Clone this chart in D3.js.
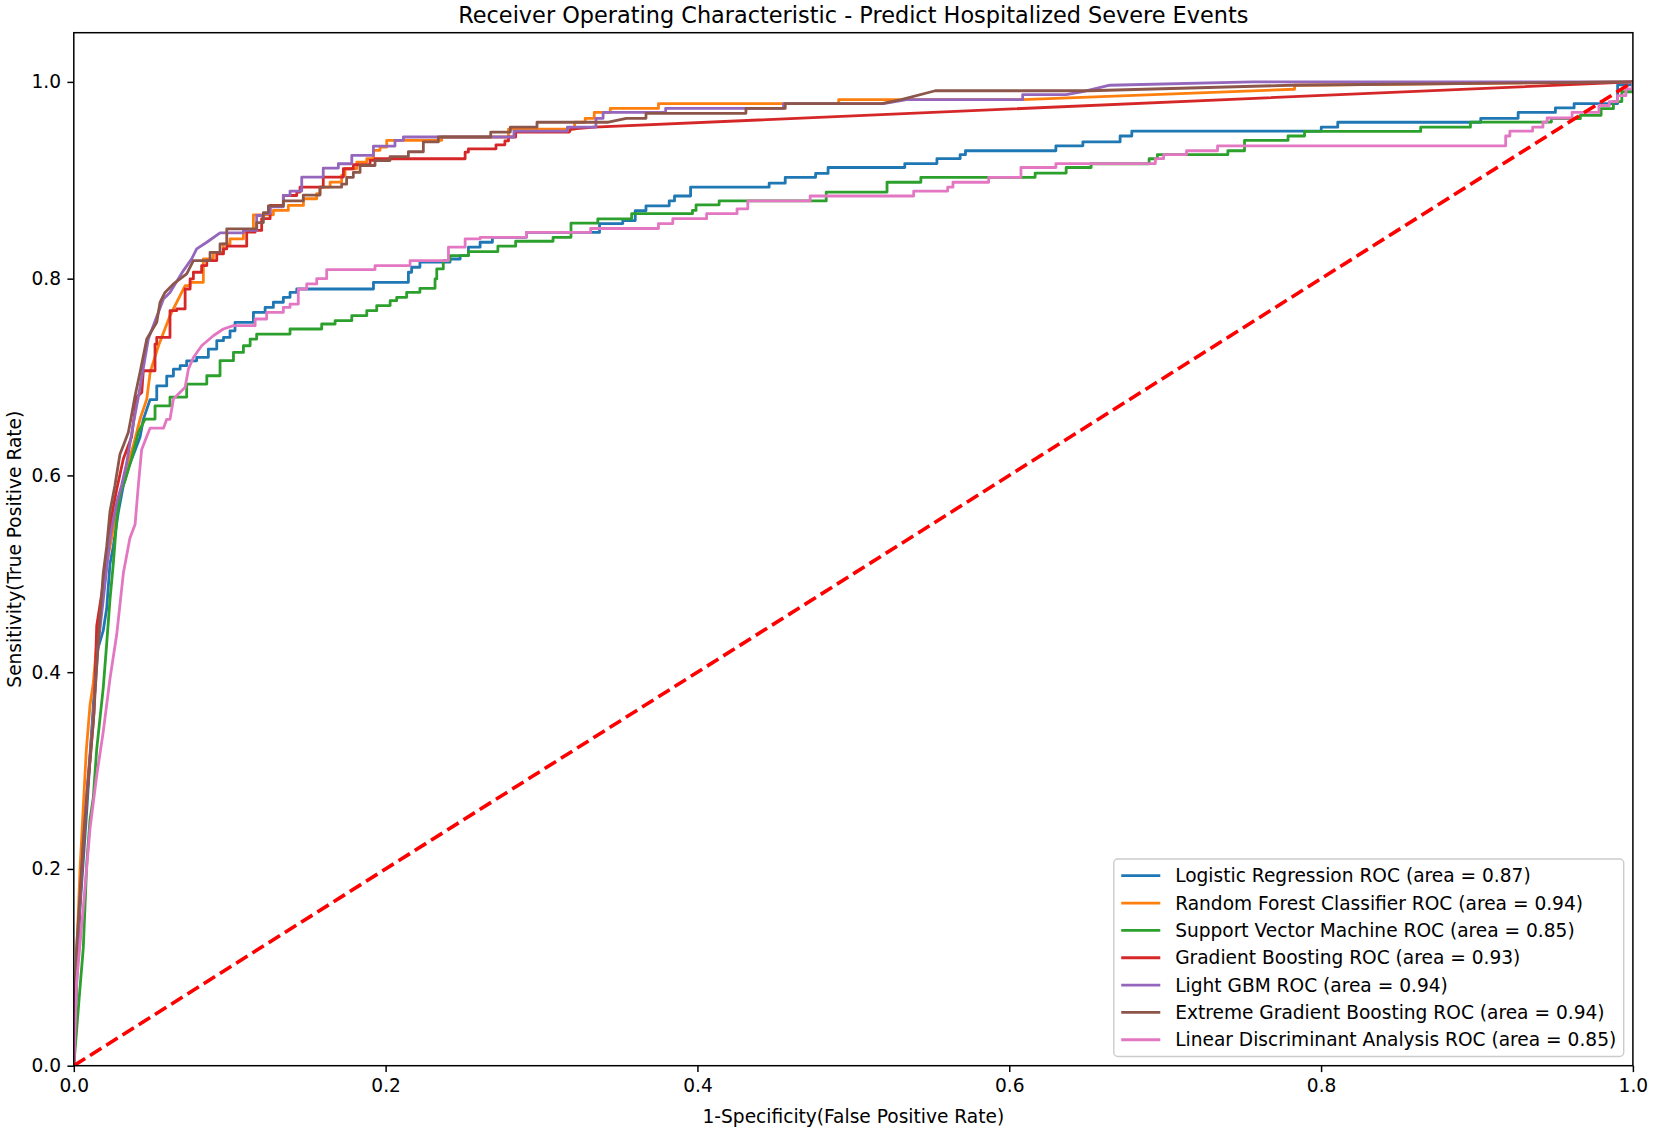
<!DOCTYPE html>
<html>
<head>
<meta charset="utf-8">
<script src="https://cdn.jsdelivr.net/npm/d3@7"></script>
<style>
  body { margin: 0; background: #fff; }
  svg { display: block; font-family: "DejaVu Sans", sans-serif; }
</style>
</head>
<body>
<div id="chart"></div>
<script>
// models, in plotting / legend order
const models = ['Logistic Regression', 'Random Forest Classifier', 'Support Vector Machine',
  'Gradient Boosting', 'Light GBM', 'Extreme Gradient Boosting', 'Linear Discriminant Analysis']
const aucs = [0.87, 0.94, 0.85, 0.93, 0.94, 0.94, 0.85]
const colors = ['#1f77b4', '#ff7f0e', '#2ca02c', '#d62728', '#9467bd', '#8c564b', '#e377c2']

const xTicks = [0, 0.2, 0.4, 0.6, 0.8, 1.0]
const yTicks = [0, 0.2, 0.4, 0.6, 0.8, 1.0]

// ROC vertices [fpr, tpr]
const lrRoc = [[0,0],[0.002,0.09],[0.004,0.161],[0.0083,0.259],[0.0125,0.366],[0.0147,0.42],[0.0189,0.4425],[0.0211,0.465],[0.0232,0.51],[0.0253,0.5275],[0.0286,0.563],[0.0318,0.59],[0.035,0.608],[0.0382,0.621],[0.0425,0.639],[0.0446,0.657],[0.0489,0.677],
  [0.0532,0.677],[0.0532,0.691],[0.0596,0.691],[0.0596,0.701],[0.0639,0.701],[0.0639,0.708],[0.0682,0.708],[0.0682,0.7115],[0.0724,0.7115],[0.0724,0.7165],[0.0788,0.7165],[0.0788,0.72],[0.0863,0.72],[0.0863,0.7284],[0.0917,0.7284],[0.0917,0.737],[0.096,0.737],[0.096,0.7403],[0.1002,0.7403],[0.1002,0.747],[0.1034,0.747],[0.1034,0.7556],[0.1152,0.7556],[0.1152,0.7658],[0.1227,0.7658],[0.1227,0.7708],[0.128,0.7708],[0.128,0.776],[0.1344,0.776],[0.1344,0.781],[0.1387,0.781],[0.1387,0.786],[0.143,0.786],[0.143,0.7895],[0.1922,0.7895],[0.1922,0.7963],[0.2146,0.7963],[0.2146,0.8065],[0.2167,0.8065],[0.2167,0.8116],[0.222,0.8116],[0.222,0.8167],[0.2413,0.8167],[0.2413,0.82],[0.2478,0.82],[0.2478,0.8235],[0.2531,0.8235],[0.2531,0.832],[0.2606,0.832],[0.2606,0.837],[0.2685,0.837],[0.2685,0.842],[0.2903,0.842],[0.2903,0.847],[0.3372,0.847],[0.3372,0.856],[0.3521,0.856],[0.3521,0.859],[0.3601,0.859],[0.3601,0.869],[0.367,0.869],[0.367,0.874],[0.3819,0.874],[0.3819,0.879],[0.3853,0.879],[0.3853,0.884],[0.3956,0.884],[0.3956,0.893],[0.446,0.893],[0.446,0.897],[0.4563,0.897],[0.4563,0.903],[0.4758,0.903],[0.4758,0.907],[0.4838,0.907],[0.4838,0.913],[0.533,0.913],[0.533,0.917],[0.5536,0.917],[0.5536,0.922],[0.5685,0.922],[0.5685,0.926],[0.5719,0.926],[0.5719,0.93],[0.6299,0.93],[0.6299,0.935],[0.6472,0.935],[0.6472,0.939],[0.6711,0.939],[0.6711,0.945],[0.6786,0.945],[0.6786,0.95],[0.8001,0.95],[0.8001,0.954],[0.8107,0.954],[0.8107,0.959],[0.9024,0.959],[0.9024,0.963],[0.9264,0.963],[0.9264,0.969],[0.9503,0.969],[0.9503,0.9735],[0.9623,0.9735],[0.9623,0.978],[0.9902,0.978],[0.9902,0.997],[1,0.997],[1,1]]

const rfRoc = [[0,0],[0.002,0.12],[0.004,0.2],[0.006,0.26],[0.008,0.32],[0.0104,0.3665],[0.0125,0.3888],[0.0157,0.447],[0.0189,0.4783],[0.0211,0.5096],[0.0253,0.5454],[0.0296,0.5812],[0.0339,0.6081],[0.0382,0.6304],[0.0425,0.6573],[0.0468,0.6776],[0.049,0.705],[0.0543,0.7318],[0.0617,0.7624],[0.0714,0.7929],
  [0.0746,0.7929],[0.0746,0.7963],[0.0831,0.7963],[0.0831,0.8201],[0.0895,0.8201],[0.0895,0.8268],[0.0959,0.8268],[0.0959,0.8353],[0.1002,0.8353],[0.1002,0.8404],[0.1088,0.8404],[0.1088,0.8479],[0.1152,0.8479],[0.1152,0.8649],[0.128,0.8649],[0.128,0.8693],[0.1376,0.8693],[0.1376,0.8744],[0.1473,0.8744],[0.1473,0.8812],[0.1558,0.8812],[0.1558,0.8863],[0.1579,0.8863],[0.1579,0.8931],[0.1644,0.8931],[0.1644,0.8981],[0.1718,0.8981],[0.1718,0.905],[0.174,0.905],[0.174,0.9117],[0.1815,0.9117],[0.1815,0.9185],[0.1879,0.9185],[0.1879,0.9219],[0.1922,0.9219],[0.1922,0.9304],[0.1964,0.9304],[0.1964,0.9338],[0.2007,0.9338],[0.2007,0.9406],[0.236,0.9406],[0.236,0.944],[0.2788,0.944],[0.2788,0.952],[0.3212,0.952],[0.3212,0.959],[0.328,0.959],[0.328,0.963],[0.3338,0.963],[0.3338,0.969],[0.3441,0.969],[0.3441,0.973],[0.375,0.973],[0.375,0.978],[0.4906,0.978],[0.4906,0.982],[0.6086,0.982],[0.783,0.9925],[0.783,0.9966],[1,1]]

const svmRoc = [[0,0],[0.003,0.06],[0.0061,0.12],[0.0083,0.2054],[0.0104,0.2501],[0.0125,0.2725],[0.0147,0.3217],[0.0168,0.353],[0.0189,0.3844],[0.0211,0.4291],[0.0232,0.4738],[0.0253,0.5096],[0.0275,0.5544],[0.0296,0.5812],[0.0328,0.5946],[0.0371,0.617],[0.0414,0.6438],[0.0457,0.6573],
  [0.0521,0.6573],[0.0521,0.6707],[0.0617,0.6707],[0.0617,0.6796],[0.0724,0.6796],[0.0724,0.6928],[0.0853,0.6928],[0.0853,0.7013],[0.0938,0.7013],[0.0938,0.7166],[0.1024,0.7166],[0.1024,0.725],[0.1088,0.725],[0.1088,0.7318],[0.1131,0.7318],[0.1131,0.7386],[0.1173,0.7386],[0.1173,0.7437],[0.1387,0.7437],[0.1387,0.7488],[0.159,0.7488],[0.159,0.7539],[0.1676,0.7539],[0.1676,0.7573],[0.1783,0.7573],[0.1783,0.7624],[0.1879,0.7624],[0.1879,0.7675],[0.1943,0.7675],[0.1943,0.7726],[0.2029,0.7726],[0.2029,0.7776],[0.2071,0.7776],[0.2071,0.781],[0.2135,0.781],[0.2135,0.7861],[0.222,0.7861],[0.222,0.7902],[0.2317,0.7902],[0.2317,0.7997],[0.2328,0.7997],[0.2328,0.8099],[0.237,0.8099],[0.237,0.8184],[0.2413,0.8184],[0.2413,0.8234],[0.2531,0.8234],[0.2531,0.8275],[0.272,0.8275],[0.272,0.833],[0.2834,0.833],[0.2834,0.838],[0.3074,0.838],[0.3074,0.842],[0.3189,0.842],[0.3189,0.8564],[0.3361,0.8564],[0.3361,0.8608],[0.3578,0.8608],[0.3578,0.866],[0.3968,0.866],[0.3968,0.8693],[0.3991,0.8693],[0.3991,0.875],[0.4139,0.875],[0.4139,0.879],[0.4826,0.879],[0.4826,0.888],[0.5216,0.888],[0.5216,0.898],[0.5433,0.898],[0.5433,0.903],[0.6166,0.903],[0.6166,0.9073],[0.6365,0.9073],[0.6365,0.913],[0.6525,0.913],[0.6525,0.9168],[0.6897,0.9168],[0.6897,0.9219],[0.695,0.9219],[0.695,0.926],[0.7402,0.926],[0.7402,0.93],[0.7509,0.93],[0.7509,0.9405],[0.7788,0.9405],[0.7788,0.945],[0.7894,0.945],[0.7894,0.9497],[0.8639,0.9497],[0.8639,0.954],[0.8958,0.954],[0.8958,0.9592],[0.9477,0.9592],[0.9477,0.9626],[0.9663,0.9626],[0.9663,0.966],[0.9796,0.966],[0.9796,0.9728],[0.9875,0.9728],[0.9875,0.98],[0.9929,0.98],[0.9929,0.99],[1,0.99],[1,1]]

const gbRoc = [[0,0],[0.002,0.11],[0.0045,0.18],[0.0065,0.23],[0.0087,0.28],[0.011,0.32],[0.013,0.36],[0.0147,0.447],[0.0189,0.49],[0.0243,0.5588],[0.0275,0.5857],[0.0318,0.617],[0.0371,0.6394],[0.0403,0.6796],[0.0436,0.6843],[0.0446,0.7064],
  [0.0521,0.7064],[0.0521,0.7335],[0.0532,0.7335],[0.0532,0.7403],[0.0617,0.7403],[0.0617,0.7675],[0.066,0.7675],[0.066,0.7692],[0.0714,0.7692],[0.0714,0.7895],[0.0746,0.7895],[0.0746,0.7997],[0.0767,0.7997],[0.0767,0.8065],[0.082,0.8065],[0.082,0.8133],[0.0853,0.8133],[0.0853,0.8184],[0.0917,0.8184],[0.0917,0.8251],[0.096,0.8251],[0.096,0.8302],[0.0981,0.8302],[0.0981,0.833],[0.1109,0.833],[0.1109,0.8472],[0.1163,0.8472],[0.1163,0.849],[0.1205,0.849],[0.1205,0.861],[0.1259,0.861],[0.1259,0.8745],[0.1344,0.8745],[0.1344,0.8845],[0.143,0.8845],[0.143,0.888],[0.1451,0.888],[0.1451,0.893],[0.16,0.893],[0.16,0.9032],[0.1729,0.9032],[0.1729,0.9117],[0.1793,0.9117],[0.1793,0.9158],[0.19,0.9158],[0.19,0.9202],[0.1932,0.9202],[0.1932,0.9219],[0.251,0.9219],[0.251,0.9287],[0.2531,0.9287],[0.2531,0.932],[0.2708,0.932],[0.2708,0.936],[0.2765,0.936],[0.2765,0.94],[0.2788,0.94],[0.2788,0.944],[0.2834,0.944],[0.2834,0.949],[0.3178,0.949],[0.3189,0.952],[0.3338,0.954],[1,1]]

const lgbmRoc = [[0,0],[0.002,0.11],[0.004,0.17],[0.0061,0.2278],[0.009,0.29],[0.0125,0.3575],[0.0157,0.4291],[0.0189,0.4738],[0.0232,0.5365],[0.0275,0.5723],[0.0307,0.5902],[0.0339,0.6125],[0.0382,0.6528],[0.0414,0.6796],[0.0478,0.7386],[0.051,0.7522],[0.0575,0.7793],[0.0617,0.786],[0.0703,0.8082],[0.0756,0.8201],[0.0788,0.8302],[0.0853,0.837],[0.0938,0.8465],
  [0.1088,0.8465],[0.1088,0.849],[0.1173,0.849],[0.1173,0.8642],[0.1216,0.8642],[0.1216,0.866],[0.1259,0.866],[0.1259,0.873],[0.1344,0.873],[0.1344,0.8846],[0.1387,0.8846],[0.1387,0.889],[0.1462,0.889],[0.1462,0.9032],[0.16,0.9032],[0.16,0.9124],[0.1697,0.9124],[0.1697,0.9168],[0.1783,0.9168],[0.1783,0.9253],[0.1922,0.9253],[0.1922,0.9348],[0.206,0.9348],[0.206,0.9406],[0.2114,0.9406],[0.2114,0.944],[0.2823,0.944],[0.2823,0.95],[0.3166,0.95],[0.3166,0.954],[0.3349,0.954],[0.3349,0.963],[0.3395,0.963],[0.3395,0.969],[0.3796,0.969],[0.3796,0.973],[0.4552,0.973],[0.4552,0.978],[0.5193,0.978],[0.5342,0.982],[0.6086,0.982],[0.6086,0.987],[0.6365,0.987],[0.6472,0.99],[0.6645,0.9966],[0.7562,1],[1,1]]

const xgbRoc = [[0,0],[0.0018,0.12],[0.004,0.174],[0.0061,0.2278],[0.0083,0.2725],[0.0104,0.3128],[0.0125,0.3486],[0.0147,0.4067],[0.0168,0.456],[0.0189,0.5007],[0.0211,0.5275],[0.0232,0.5633],[0.0264,0.59],[0.0296,0.6215],[0.0318,0.6304],[0.035,0.6438],[0.0371,0.6617],[0.0393,0.681],[0.0425,0.7047],[0.0468,0.7386],[0.0532,0.7556],[0.0553,0.7759],[0.0585,0.786],[0.0639,0.7946],[0.0682,0.7997],[0.0724,0.8048],[0.0767,0.8184],
  [0.0874,0.8184],[0.0874,0.8268],[0.0938,0.8268],[0.0938,0.8353],[0.0981,0.8353],[0.0981,0.8506],[0.1173,0.8506],[0.1173,0.857],[0.1216,0.857],[0.1216,0.867],[0.1248,0.867],[0.1248,0.874],[0.1344,0.874],[0.1344,0.879],[0.1472,0.879],[0.1472,0.885],[0.1579,0.885],[0.1579,0.893],[0.1718,0.893],[0.1718,0.896],[0.175,0.896],[0.175,0.903],[0.1793,0.903],[0.1793,0.908],[0.1836,0.908],[0.1836,0.915],[0.1932,0.915],[0.1932,0.92],[0.2028,0.92],[0.2028,0.924],[0.2146,0.924],[0.2146,0.929],[0.2242,0.929],[0.2242,0.939],[0.2338,0.939],[0.2338,0.944],[0.2674,0.944],[0.2674,0.949],[0.28,0.949],[0.28,0.954],[0.2971,0.954],[0.2971,0.959],[0.3429,0.959],[0.3544,0.963],[0.367,0.963],[0.367,0.968],[0.4311,0.968],[0.4311,0.973],[0.4563,0.973],[0.4563,0.978],[0.5181,0.978],[0.5307,0.982],[0.5525,0.991],[0.6512,0.991],[0.7801,0.9966],[1,1]]

const ldaRoc = [[0,0],[0.0018,0.0846],[0.0061,0.161],[0.0104,0.241],[0.0147,0.295],[0.0189,0.3396],[0.0232,0.3933],[0.0275,0.438],[0.0318,0.5007],[0.036,0.5365],[0.0393,0.55],[0.0414,0.59],[0.0435,0.626],[0.0467,0.6394],[0.0489,0.648],[0.0575,0.648],[0.0596,0.657],[0.0617,0.657],[0.0639,0.6776],[0.0714,0.6895],[0.0735,0.708],[0.0767,0.7199],[0.082,0.7318],[0.0895,0.742],[0.0959,0.7488],[0.1024,0.7522],
  [0.1163,0.7522],[0.1163,0.759],[0.1237,0.759],[0.1237,0.7658],[0.1344,0.7658],[0.1344,0.7708],[0.1387,0.7708],[0.1387,0.7742],[0.144,0.7742],[0.144,0.7895],[0.1494,0.7895],[0.1494,0.7946],[0.1558,0.7946],[0.1558,0.8],[0.1622,0.8],[0.1622,0.8092],[0.1932,0.8092],[0.1932,0.8133],[0.2157,0.8133],[0.2157,0.8184],[0.2403,0.8184],[0.2403,0.832],[0.251,0.832],[0.251,0.8404],[0.2606,0.8404],[0.2606,0.842],[0.2903,0.842],[0.2903,0.847],[0.3315,0.847],[0.3315,0.851],[0.375,0.851],[0.375,0.856],[0.3842,0.856],[0.3842,0.861],[0.4059,0.861],[0.4059,0.866],[0.4254,0.866],[0.4254,0.871],[0.4323,0.871],[0.4323,0.879],[0.4723,0.879],[0.4723,0.884],[0.5387,0.884],[0.5387,0.889],[0.5605,0.889],[0.5605,0.893],[0.5639,0.893],[0.5639,0.898],[0.5868,0.898],[0.5868,0.903],[0.6075,0.903],[0.6075,0.913],[0.6299,0.913],[0.6299,0.917],[0.6937,0.917],[0.6937,0.922],[0.699,0.922],[0.699,0.926],[0.7137,0.926],[0.7137,0.93],[0.7336,0.93],[0.7336,0.935],[0.9184,0.935],[0.9184,0.945],[0.9211,0.945],[0.9211,0.95],[0.9357,0.95],[0.9357,0.954],[0.9423,0.954],[0.9423,0.9592],[0.945,0.9592],[0.945,0.9633],[0.961,0.9633],[0.961,0.969],[0.9782,0.969],[0.9782,0.976],[0.9849,0.976],[0.9849,0.98],[0.9902,0.98],[0.9902,0.986],[0.9955,0.986],[0.9955,0.993],[1,0.993],[1,1]]

const chanceRoc = [[0,0],[1,1]]

const rocs = [lrRoc, rfRoc, svmRoc, gbRoc, lgbmRoc, xgbRoc, ldaRoc]

const titleText = 'Receiver Operating Characteristic - Predict Hospitalized Severe Events'
const xLabelText = '1-Specificity(False Positive Rate)'
const yLabelText = 'Sensitivity(True Positive Rate)'

class RocChart {
  constructor (_config, parentElement) {
    this.config = {
      width: _config.width,
      height: _config.height,
      margin: {top: 32.7, right: 21.1, bottom: 64.3, left: 73.8},
      parentElement: parentElement
    }
    this.config.visWidth = this.config.width - this.config.margin.left - this.config.margin.right
    this.config.visHeight = this.config.height - this.config.margin.top - this.config.margin.bottom
    this.series = models.map((m, i) => ({name: m, auc: aucs[i], color: colors[i], values: rocs[i]}))
    this.initVis()
  }

  initVis () {
    const vis = this
    const c = vis.config

    vis.svg = d3.select(c.parentElement).append('svg')
      .attr('width', c.width)
      .attr('height', c.height)

    vis.scaleX = d3.scaleLinear().domain([0, 1]).range([0, c.visWidth])
    vis.scaleY = d3.scaleLinear().domain([0, 1.05]).range([c.visHeight, 0])

    vis.visG = vis.svg.append('g').attr('transform', `translate(${c.margin.left},${c.margin.top})`)

    vis.visG.append('clipPath').attr('id', 'plot-clip')
      .append('rect').attr('width', c.visWidth).attr('height', c.visHeight)

    vis.linesG = vis.visG.append('g').attr('clip-path', 'url(#plot-clip)')
    vis.axisXGroup = vis.visG.append('g').attr('transform', `translate(0,${c.visHeight})`)
    vis.axisYGroup = vis.visG.append('g')

    vis.renderVis()
  }

  renderVis () {
    const vis = this
    const c = vis.config
    const line = d3.line().x(d => vis.scaleX(d[0])).y(d => vis.scaleY(d[1]))

    vis.linesG.selectAll('path.roc')
      .data(vis.series)
      .join('path')
      .attr('class', 'roc')
      .attr('d', d => line(d.values))
      .attr('fill', 'none')
      .attr('stroke', d => d.color)
      .attr('stroke-width', 2.8)
      .attr('stroke-linejoin', 'round')

    vis.linesG.append('path')
      .attr('d', line(chanceRoc))
      .attr('fill', 'none')
      .attr('stroke', '#ff0000')
      .attr('stroke-width', 3.6)
      .attr('stroke-dasharray', '13.4,5.8')

    // spines
    vis.visG.append('rect')
      .attr('width', c.visWidth).attr('height', c.visHeight)
      .attr('fill', 'none').attr('stroke', '#000').attr('stroke-width', 1.5)

    const fmt = d3.format('.1f')
    vis.axisXGroup.call(d3.axisBottom(vis.scaleX).tickValues(xTicks).tickFormat(fmt).tickSize(6.4).tickPadding(7))
    vis.axisYGroup.call(d3.axisLeft(vis.scaleY).tickValues(yTicks).tickFormat(fmt).tickSize(6.4).tickPadding(6.4))
    ;[vis.axisXGroup, vis.axisYGroup].forEach(a => {
      a.select('.domain').remove()
      a.attr('font-family', null).attr('font-size', null)
      a.selectAll('.tick line').attr('stroke', '#000').attr('stroke-width', 1.5)
      a.selectAll('.tick text').attr('fill', '#000').style('font-size', '18.6px')
    })

    // title and axis labels
    vis.svg.append('text')
      .attr('x', c.margin.left + c.visWidth / 2).attr('y', 23)
      .attr('text-anchor', 'middle').style('font-size', '22.4px')
      .text(titleText)

    vis.svg.append('text')
      .attr('x', c.margin.left + c.visWidth / 2).attr('y', 1122.5)
      .attr('text-anchor', 'middle').style('font-size', '18.6px')
      .text(xLabelText)

    vis.svg.append('text')
      .attr('transform', `translate(21,${c.margin.top + c.visHeight / 2}) rotate(-90)`)
      .attr('text-anchor', 'middle').style('font-size', '18.6px')
      .text(yLabelText)

    vis.renderLegend()
  }

  renderLegend () {
    const vis = this
    const c = vis.config
    const fs = 18.6
    const pad = 0.4 * fs, handleLen = 2.1 * fs, handleGap = 0.8 * fs, rowH = 1.47 * fs

    const leg = vis.visG.append('g')
    const box = leg.append('rect')
      .attr('rx', 4).attr('ry', 4)
      .attr('fill', '#fff').attr('fill-opacity', 0.8)
      .attr('stroke', '#cccccc').attr('stroke-width', 1.4)

    const rows = leg.selectAll('g.row')
      .data(vis.series)
      .join('g')
      .attr('class', 'row')
      .attr('transform', (d, i) => `translate(0,${pad + fs / 2 + i * rowH})`)

    rows.append('line')
      .attr('x1', pad).attr('x2', pad + handleLen)
      .attr('stroke', d => d.color).attr('stroke-width', 2.8)

    const texts = rows.append('text')
      .attr('x', pad + handleLen + handleGap)
      .attr('dy', '0.36em')
      .style('font-size', fs + 'px')
      .text(d => `${d.name} ROC (area = ${d.auc.toFixed(2)})`)

    let maxW = 0
    texts.each(function () { maxW = Math.max(maxW, this.getComputedTextLength()) })
    const w = pad + handleLen + handleGap + maxW + pad
    const h = 2 * pad + (vis.series.length - 1) * rowH + fs
    box.attr('width', w).attr('height', h)
    leg.attr('transform', `translate(${c.visWidth - 9.2 - w},${c.visHeight - 9.2 - h})`)
  }
}

const chart = new RocChart({width: 1654, height: 1130}, '#chart')
</script>
</body>
</html>
